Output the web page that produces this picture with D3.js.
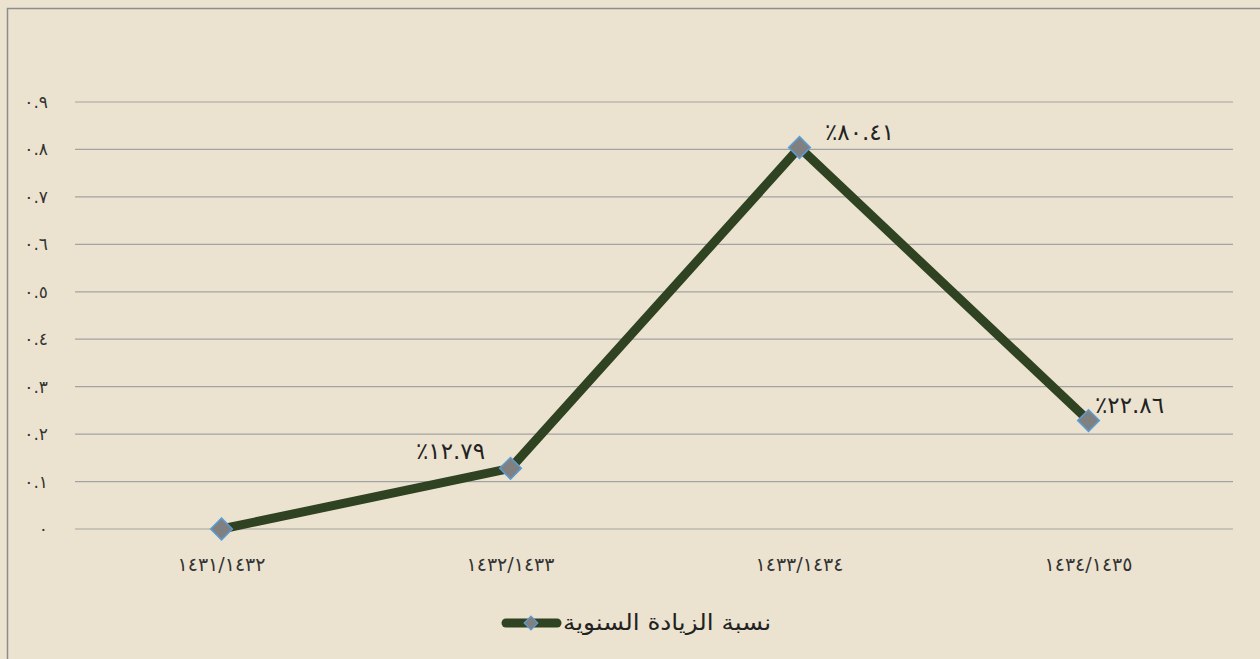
<!DOCTYPE html>
<html><head><meta charset="utf-8">
<script src="https://cdn.jsdelivr.net/npm/d3@7"></script>
<style>
html,body{margin:0;padding:0;background:#ebe3cf;}
svg{display:block;}
</style></head>
<body>
<svg id="chart" width="1260" height="659"></svg>
<script>
const categories = ["١٤٣١/١٤٣٢", "١٤٣٢/١٤٣٣", "١٤٣٣/١٤٣٤", "١٤٣٤/١٤٣٥"];
const values = [0, 0.1279, 0.8041, 0.2286];
const valueLabels = ["", "٪١٢.٧٩", "٪٨٠.٤١", "٪٢٢.٨٦"];
const yTicks = [0, 0.1, 0.2, 0.3, 0.4, 0.5, 0.6, 0.7, 0.8, 0.9];
const yTickLabels = ["٠", "٠.١", "٠.٢", "٠.٣", "٠.٤", "٠.٥", "٠.٦", "٠.٧", "٠.٨", "٠.٩"];
const seriesName = "نسبة الزيادة السنوية";

const svg = d3.select("#chart");
svg.append("rect").attr("x",0).attr("y",0).attr("width",1260).attr("height",659).attr("fill","#ebe3cf");
svg.append("rect").attr("x",7.5).attr("y",8.5).attr("width",1270).attr("height",670)
  .attr("fill","#ebe3cf").attr("stroke","#8c8c8c").attr("stroke-width",1.5);

const x = d3.scalePoint().domain(categories).range([77, 1233]).padding(0.5);
const y = d3.scaleLinear().domain([0, 0.9]).range([529, 102]);

// grid
svg.append("g").selectAll("line").data(yTicks).join("line")
  .attr("x1",75).attr("x2",1233)
  .attr("y1",d=>y(d)).attr("y2",d=>y(d))
  .attr("stroke","#a3a3a3").attr("stroke-width",1.2);

// y labels
svg.append("g").selectAll("text").data(yTicks).join("text")
  .attr("x",48).attr("y",d=>y(d)+6)
  .attr("text-anchor","end")
  .attr("font-family","DejaVu Sans, sans-serif").attr("font-size",17).attr("fill","#333")
  .text((d,i)=>yTickLabels[i]);

// x labels
svg.append("g").selectAll("text").data(categories).join("text")
  .attr("x",d=>x(d)).attr("y",571)
  .attr("text-anchor","middle")
  .attr("font-family","DejaVu Sans, sans-serif").attr("font-size",19).attr("fill","#333")
  .style("direction","ltr").style("unicode-bidi","bidi-override")
  .text(d=>d);

// line
const line = d3.line().x((d,i)=>x(categories[i])).y(d=>y(d));
svg.append("path").datum(values).attr("d",line)
  .attr("fill","none").attr("stroke","#2f4221").attr("stroke-width",9)
  .attr("stroke-linejoin","miter");

// markers
const diamond = d3.symbol().type(d3.symbolDiamond2).size(300);
svg.append("g").selectAll("path").data(values).join("path")
  .attr("transform",(d,i)=>`translate(${x(categories[i])},${y(d)})`)
  .attr("d",diamond())
  .attr("fill","#808080").attr("stroke","#5b9bd5").attr("stroke-width",1.5);

// value labels
const labelOffsets = [[0,0],[-60,-9],[60,-7],[41,-8]];
svg.append("g").selectAll("text").data(values).join("text")
  .attr("x",(d,i)=>x(categories[i])+labelOffsets[i][0])
  .attr("y",(d,i)=>y(d)+labelOffsets[i][1])
  .attr("text-anchor","middle")
  .attr("font-family","DejaVu Sans, sans-serif").attr("font-size",23).attr("fill","#222")
  .style("direction","ltr").style("unicode-bidi","bidi-override")
  .text((d,i)=>valueLabels[i]);

// legend
const lg = svg.append("g");
lg.append("line").attr("x1",506).attr("x2",557).attr("y1",623).attr("y2",623)
  .attr("stroke","#2f4221").attr("stroke-width",9).attr("stroke-linecap","round");
lg.append("path").attr("transform","translate(531,623)")
  .attr("d",d3.symbol().type(d3.symbolDiamond2).size(120)())
  .attr("fill","#808080").attr("stroke","#5b9bd5").attr("stroke-width",1.2);
lg.append("text").attr("x",563).attr("y",630).attr("text-anchor","start")
  .attr("font-family","DejaVu Sans, sans-serif").attr("font-size",22).attr("fill","#222")
  .attr("textLength",208).attr("lengthAdjust","spacingAndGlyphs")
  .text(seriesName);
</script>
</body></html>
